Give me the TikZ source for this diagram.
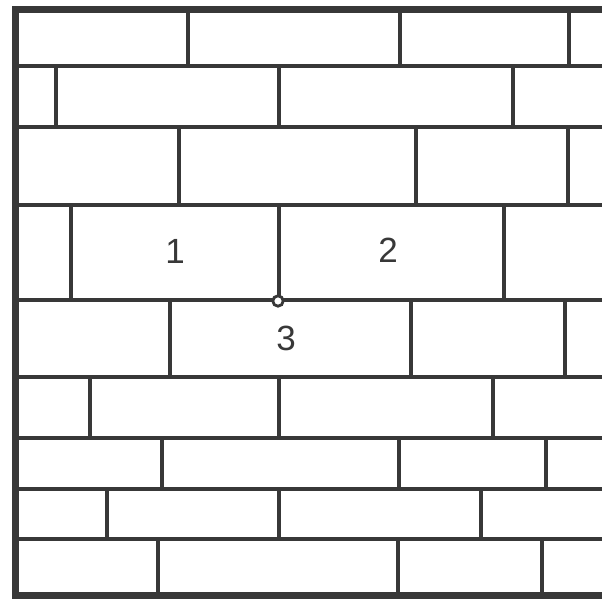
\documentclass[tikz,border=0pt]{standalone}
\usepackage{fontspec}
\setmainfont{Liberation Sans}
\begin{document}
\begin{tikzpicture}[x=1pt,y=-1pt,
  joint/.style={line width=3.2pt, draw=black!78},
  wallframe/.style={line width=7pt, draw=black!78, line join=miter},
  lbl/.style={font=\fontsize{35}{35}\selectfont, text=black!78, inner sep=0pt}]
\fill[white] (0,0) rectangle (602,602);
\useasboundingbox (0,0) rectangle (602,602);
% bed joints
\foreach \y in {66,127,205,300,377,438,489,539}
  \draw[joint] (15,\y) -- (602,\y);
% head joints per course
\foreach \ya/\yb/\xs in {10/66/{188,400,569}, 66/127/{56,279,513}, 127/205/{179,416,568},
  205/300/{71,279,504}, 300/377/{170,411,565}, 377/438/{90,279,493},
  438/489/{162,399,546}, 489/539/{107,279,481}, 539/595/{158,398,542}}
{
  \foreach \x in \xs
    \draw[joint] (\x,\ya) -- (\x,\yb);
}
% wall outline
\draw[wallframe] (602,10) -- (15,10) -- (15,595) -- (602,595);
% point 3
\draw[line width=2.8pt, draw=black!78, fill=white] (278,301) circle (5.2);
% labels
\node[lbl] (n1) at (175,251) {1};
\node[lbl] (n2) at (388,250) {2};
\node[lbl] (n3) at (286,338) {3};
\end{tikzpicture}
\end{document}
